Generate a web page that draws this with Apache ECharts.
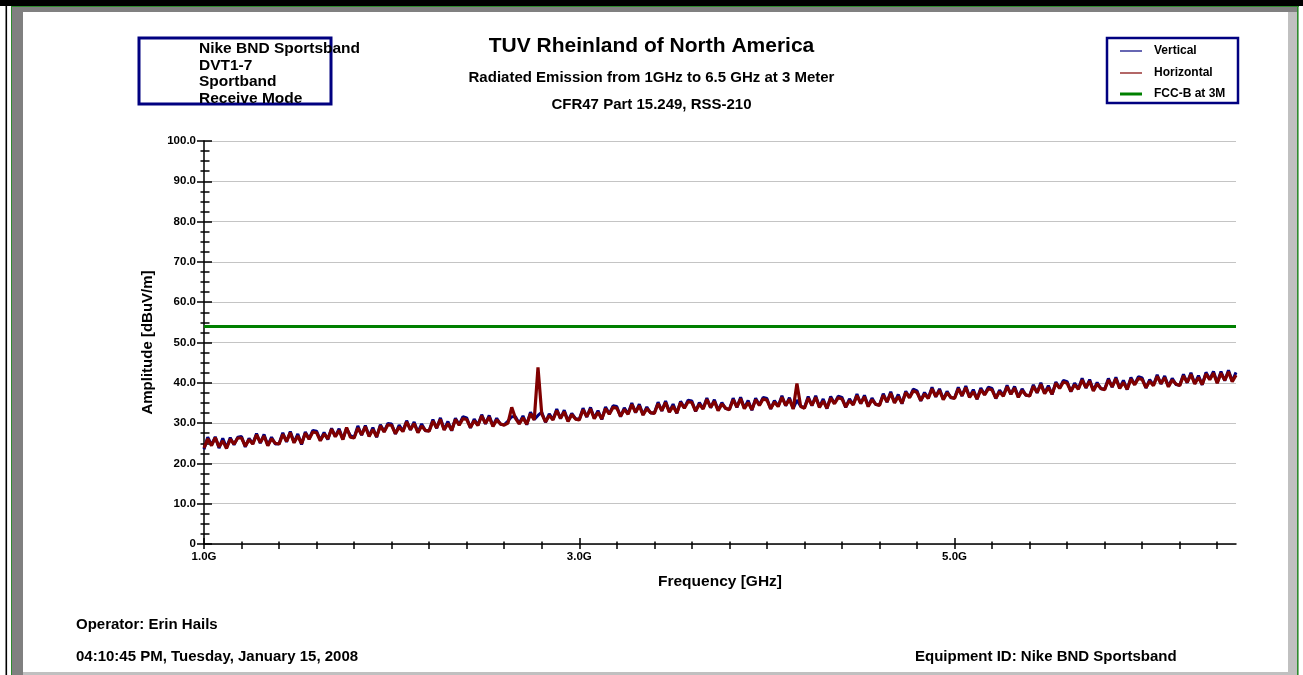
<!DOCTYPE html>
<html><head><meta charset="utf-8">
<script src="https://cdn.jsdelivr.net/npm/echarts@6/dist/echarts.min.js"></script>
<style>html,body{margin:0;padding:0;background:#fff}#c{width:1303px;height:675px}</style>
</head><body><div id="c"></div>
<script>
// ---- data ----
const freqStart = 1.0;      // GHz, first sample
const freqStep = 0.02;      // GHz between samples
const horizontal = [
23.8,26.1,24.4,26.4,24.1,25.6,23.7,26.0,24.8,26.3,
26.3,24.3,25.9,24.8,27.1,25.2,26.8,24.4,26.1,25.0,
24.8,27.2,25.5,27.6,25.1,26.8,24.9,27.5,26.0,27.8,
27.6,25.6,27.3,26.1,28.5,26.6,28.2,25.9,28.9,26.5,
26.3,28.8,27.1,29.1,26.7,28.4,26.6,29.3,27.8,29.6,
29.4,27.4,29.0,27.9,30.3,28.4,29.9,27.6,29.3,28.2,
28.0,30.5,28.8,30.9,28.3,29.9,28.2,30.9,29.5,31.1,
30.9,28.9,30.6,29.4,31.8,29.9,31.5,29.2,30.8,29.8,
29.5,30.0,33.9,31.2,29.8,31.3,29.7,32.3,30.8,43.8,
32.3,30.3,31.9,30.8,33.1,31.2,32.8,30.4,32.1,31.0,
30.8,33.3,31.6,33.5,31.1,32.7,31.0,33.6,32.2,33.9,
33.7,31.7,33.4,32.2,34.6,32.7,34.3,32.0,33.6,32.6,
32.4,34.8,33.1,35.1,32.7,34.2,32.5,35.1,33.7,35.3,
35.1,33.0,34.7,33.5,35.9,33.9,35.4,33.1,34.7,33.7,
33.3,35.8,34.0,36.0,33.6,35.1,33.3,35.8,34.4,36.0,
35.7,33.6,35.2,34.1,36.4,34.4,35.9,33.5,39.8,34.1,
33.7,36.2,34.4,36.4,33.9,35.5,33.7,36.2,34.8,36.3,
36.0,34.0,35.6,34.5,36.8,34.9,36.5,34.1,35.8,34.7,
34.4,36.9,35.3,37.4,35.0,36.6,34.9,37.6,36.3,38.0,
37.6,35.6,37.2,36.1,38.5,36.6,38.1,35.8,37.5,36.4,
36.1,38.5,36.8,38.8,36.4,37.8,36.0,38.3,37.0,38.5,
38.2,36.2,37.8,36.7,39.0,37.2,38.7,36.4,38.1,37.0,
36.7,39.1,37.6,39.6,37.3,38.8,37.2,39.9,38.6,40.2,
39.9,37.9,39.5,38.4,40.7,38.8,40.4,38.0,39.7,38.6,
38.3,40.7,39.0,41.0,38.6,40.1,38.4,40.9,39.5,41.1,
40.8,38.8,40.4,39.3,41.6,39.8,41.3,39.0,40.7,39.7,
39.3,41.7,40.1,42.1,39.7,41.3,39.6,42.2,40.8,42.4,
39.9,42.4,40.6,42.7,40.3,41.9
];
const vertical = [
23.5,26.5,24.6,26.6,23.8,26.2,23.9,26.4,24.6,26.5,
26.7,24.1,26.2,24.9,27.4,25.0,27.2,24.5,26.5,24.8,
24.9,27.6,25.3,27.9,25.2,27.3,24.7,27.8,26.1,28.2,
28.0,25.7,27.7,25.9,28.7,26.7,28.6,26.0,28.7,26.9,
26.4,29.3,27.0,29.4,26.8,28.9,26.5,29.6,27.9,29.9,
29.8,27.3,29.5,28.0,30.6,28.3,30.3,27.7,29.8,28.1,
28.1,30.9,28.7,31.3,28.4,30.4,28.1,31.2,29.6,31.6,
31.3,28.8,31.0,29.5,32.1,29.8,31.9,29.3,31.2,29.7,
29.6,30.5,31.6,31.6,29.9,31.8,29.6,32.7,30.9,31.9,
32.7,30.2,32.3,30.9,33.5,31.1,33.2,30.5,32.4,31.1,
30.9,33.7,31.5,33.9,31.2,33.1,30.9,34.0,32.3,34.3,
34.1,31.6,33.8,32.3,35.0,32.6,34.7,32.1,34.0,32.5,
32.5,35.2,33.0,35.5,32.8,34.7,32.4,35.4,33.8,35.7,
35.5,32.9,35.1,33.6,36.2,33.8,35.8,33.2,35.1,33.6,
33.4,36.2,33.9,36.4,33.7,35.6,33.2,36.2,34.5,36.4,
36.1,33.5,35.6,34.2,36.8,34.3,36.3,33.6,35.7,34.2,
33.8,36.6,34.3,36.8,34.0,36.0,33.6,36.6,34.9,36.7,
36.4,33.9,36.0,34.6,37.2,34.8,36.9,34.2,36.2,34.6,
34.5,37.3,35.2,37.8,35.1,37.1,34.8,37.9,36.4,38.4,
38.0,35.5,37.6,36.2,38.9,36.5,38.5,35.9,37.9,36.3,
36.2,38.9,36.7,39.2,36.5,38.3,35.9,38.7,37.1,38.9,
38.6,36.1,38.2,36.8,39.4,37.1,39.1,36.5,38.5,36.9,
36.8,39.5,37.5,40.0,37.4,39.3,37.1,40.2,38.7,40.6,
40.3,37.8,39.9,38.5,41.1,38.7,40.8,38.1,40.1,38.5,
38.4,41.1,38.9,41.4,38.7,40.6,38.3,41.3,39.6,41.5,
41.2,38.7,40.8,39.4,42.0,39.7,41.7,39.1,41.1,39.6,
39.4,42.1,40.0,42.5,39.8,41.8,39.5,42.6,40.9,42.8,
40.0,42.8,40.5,43.1,40.4,42.6
];
const fccLimit = 54;                 // dBuV/m
const fccRange = [1.0, 6.5];         // GHz
const xLabelValues = [1.0, 3.0, 5.0];
const xLabelTexts = ['1.0G', '3.0G', '5.0G'];
const xTickValues = [1.0,1.2,1.4,1.6,1.8,2.0,2.2,2.4,2.6,2.8,3.0,3.2,3.4,3.6,3.8,4.0,4.2,4.4,4.6,4.8,5.0,5.2,5.4,5.6,5.8,6.0,6.2,6.4];
const yTickLabels = ['0','10.0','20.0','30.0','40.0','50.0','60.0','70.0','80.0','90.0','100.0'];
const seriesNames = ['Vertical', 'Horizontal', 'FCC-B at 3M'];
const infoLines = ['Nike BND Sportsband', 'DVT1-7', 'Sportband', 'Receive Mode'];

// ---- chart ----
const FONT = '"Liberation Sans", Arial, sans-serif';
const toPairs = arr => arr.map((v, i) => [+(freqStart + i * freqStep).toFixed(3), v]);
const xLabelFmt = v => { const k = xLabelValues.findIndex(m => Math.abs(m - v) < 1e-6); return k >= 0 ? xLabelTexts[k] : ''; };
const yLabelFmt = v => yTickLabels[Math.round(v / 10)] || '';

const chart = echarts.init(document.getElementById('c'), null, {renderer: 'canvas'});
const boldTxt = (x, y, text, size, align) => ({
  type: 'text', x: x, y: y, z: 10,
  style: {text: text, font: 'bold ' + size + 'px ' + FONT, fill: '#000', textAlign: align || 'left', textVerticalAlign: 'middle'}
});

const graphics = [
  // frame
  {type: 'rect', shape: {x: 0, y: 0, width: 1303, height: 6}, style: {fill: '#000'}},
  {type: 'rect', shape: {x: 11, y: 6, width: 1288, height: 1}, style: {fill: '#2e8b2e'}},
  {type: 'rect', shape: {x: 12, y: 7, width: 1285, height: 5}, style: {fill: '#808080'}},
  {type: 'rect', shape: {x: 5.5, y: 6, width: 1.6, height: 669}, style: {fill: '#000'}},
  {type: 'rect', shape: {x: 11, y: 6, width: 1.2, height: 669}, style: {fill: '#2e8b2e'}},
  {type: 'rect', shape: {x: 12, y: 7, width: 11, height: 668}, style: {fill: '#808080'}},
  {type: 'rect', shape: {x: 23, y: 672, width: 1274, height: 3}, style: {fill: '#c0c0c0'}},
  {type: 'rect', shape: {x: 1288, y: 12, width: 9, height: 663}, style: {fill: '#c0c0c0'}},
  {type: 'rect', shape: {x: 1297, y: 6, width: 1.6, height: 669}, style: {fill: '#2e8b2e'}},
  // info box
  {type: 'rect', z: 5, shape: {x: 139, y: 38, width: 192, height: 66}, style: {fill: 'none', stroke: '#000080', lineWidth: 3}},
  boldTxt(199, 49, infoLines[0], 15.5),
  boldTxt(199, 66, infoLines[1], 15.5),
  boldTxt(199, 82, infoLines[2], 15.5),
  boldTxt(199, 99, infoLines[3], 15.5),
  // legend
  {type: 'rect', z: 5, shape: {x: 1107, y: 38, width: 131, height: 65}, style: {fill: '#fff', stroke: '#000080', lineWidth: 2.5}},
  {type: 'line', z: 6, shape: {x1: 1120, y1: 51, x2: 1142, y2: 51}, style: {stroke: '#000080', lineWidth: 1.2}},
  {type: 'line', z: 6, shape: {x1: 1120, y1: 73, x2: 1142, y2: 73}, style: {stroke: '#800000', lineWidth: 1.2}},
  {type: 'line', z: 6, shape: {x1: 1120, y1: 94, x2: 1142, y2: 94}, style: {stroke: '#008000', lineWidth: 3}},
  boldTxt(1154, 51, seriesNames[0], 12),
  boldTxt(1154, 73, seriesNames[1], 12),
  boldTxt(1154, 94, seriesNames[2], 12),
  // footer
  boldTxt(76, 625, 'Operator: Erin Hails', 15),
  boldTxt(76, 657, '04:10:45 PM, Tuesday, January 15, 2008', 15),
  boldTxt(915, 657, 'Equipment ID: Nike BND Sportsband', 15)
];

const axisFont = {color: '#000', fontWeight: 'bold', fontSize: 11.5, fontFamily: FONT};
const blackLine = {color: '#000', width: 1.5};
const hiddenAxis = {axisLine: {show: false}, axisLabel: {show: false}, splitLine: {show: false}};

chart.setOption({
  animation: false,
  backgroundColor: '#fff',
  title: [{
    text: 'TUV Rheinland of North America',
    subtext: 'Radiated Emission from 1GHz to 6.5 GHz at 3 Meter\nCFR47 Part 15.249, RSS-210',
    left: 'center', top: 36, padding: 0, itemGap: 7.5,
    textStyle: {color: '#000', fontWeight: 'bold', fontSize: 21, fontFamily: FONT},
    subtextStyle: {color: '#000', fontWeight: 'bold', fontSize: 15, lineHeight: 27, fontFamily: FONT}
  }],
  grid: {left: 204, right: 67, top: 141, bottom: 131, containLabel: false},
  xAxis: [
    {type: 'value', min: fccRange[0], max: fccRange[1], position: 'bottom',
     name: 'Frequency [GHz]', nameLocation: 'middle', nameGap: 30,
     nameTextStyle: {color: '#000', fontWeight: 'bold', fontSize: 15.5, fontFamily: FONT},
     axisLine: {show: true, lineStyle: blackLine},
     axisTick: {show: true, length: 5, customValues: xTickValues, lineStyle: blackLine},
     axisLabel: Object.assign({customValues: xLabelValues, formatter: xLabelFmt, margin: 7}, axisFont),
     splitLine: {show: false}},
    Object.assign({type: 'value', min: fccRange[0], max: fccRange[1], position: 'bottom',
     axisTick: {show: true, inside: true, length: 2.5, customValues: xTickValues, lineStyle: blackLine}}, hiddenAxis),
    Object.assign({type: 'value', min: fccRange[0], max: fccRange[1], position: 'bottom',
     axisTick: {show: true, inside: true, length: 6, customValues: xLabelValues, lineStyle: blackLine}}, hiddenAxis)
  ],
  yAxis: [
    {type: 'value', min: 0, max: 100, interval: 10, position: 'left',
     name: 'Amplitude [dBuV/m]', nameLocation: 'middle', nameGap: 49,
     nameTextStyle: {color: '#000', fontWeight: 'bold', fontSize: 15, fontFamily: FONT},
     axisLine: {show: true, lineStyle: blackLine},
     axisTick: {show: true, length: 7, lineStyle: blackLine},
     minorTick: {show: true, splitNumber: 4, length: 3.5, lineStyle: blackLine},
     axisLabel: Object.assign({formatter: yLabelFmt, margin: 8}, axisFont),
     splitLine: {show: true, lineStyle: {color: '#c4c4c4', width: 1.2}}},
    Object.assign({type: 'value', min: 0, max: 100, interval: 2.5, position: 'left',
     axisTick: {show: true, inside: true, length: 5.5, lineStyle: blackLine}}, hiddenAxis),
    Object.assign({type: 'value', min: 0, max: 100, interval: 10, position: 'left',
     axisTick: {show: true, inside: true, length: 8, lineStyle: blackLine}}, hiddenAxis)
  ],
  graphic: graphics,
  series: [
    {name: seriesNames[0], type: 'line', xAxisIndex: 0, yAxisIndex: 0, data: toPairs(vertical),
     symbol: 'none', showSymbol: false, z: 2, lineStyle: {color: '#000080', width: 3}},
    {name: seriesNames[1], type: 'line', xAxisIndex: 0, yAxisIndex: 0, data: toPairs(horizontal),
     symbol: 'none', showSymbol: false, z: 3, lineStyle: {color: '#800000', width: 3.2}},
    {name: seriesNames[2], type: 'line', xAxisIndex: 0, yAxisIndex: 0, data: fccRange.map(f => [f, fccLimit]),
     symbol: 'none', showSymbol: false, z: 4, lineStyle: {color: '#008000', width: 3}}
  ]
});
</script></body></html>
